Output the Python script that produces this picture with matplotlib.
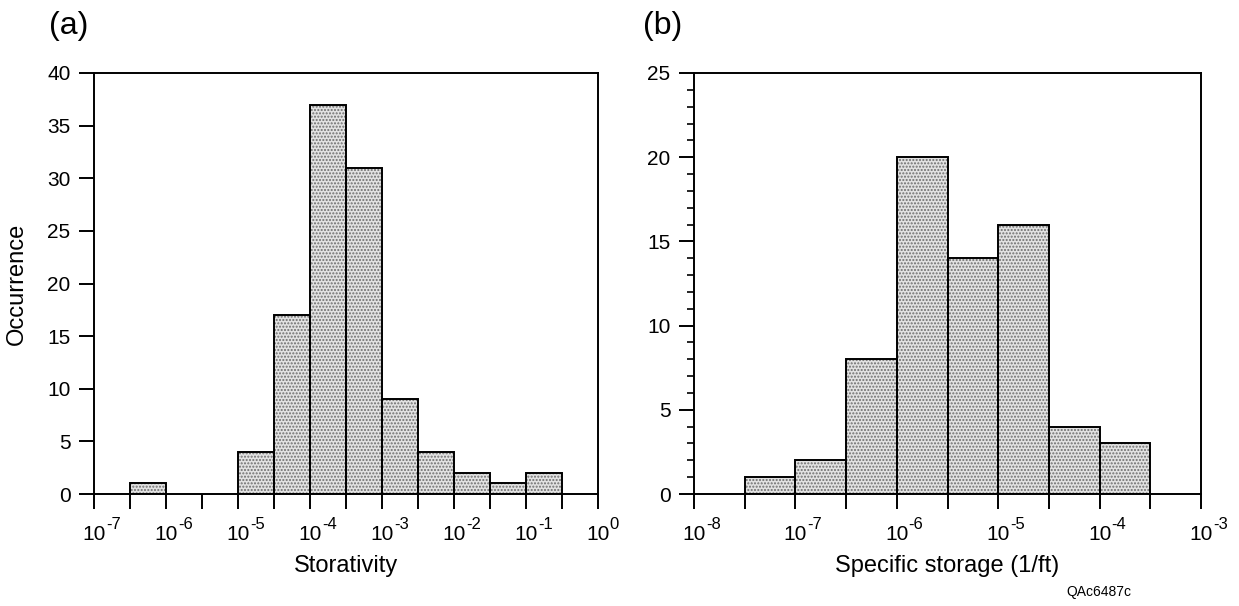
import numpy as np
import matplotlib
matplotlib.use("Agg")
import matplotlib.pyplot as plt
from matplotlib.ticker import FixedLocator, NullFormatter, MultipleLocator

plt.rcParams['font.family'] = ['Liberation Sans', 'DejaVu Sans']
plt.rcParams['hatch.linewidth'] = 1.0

# -----------------------------
# Data (log10 of bin left edge, half-decade bins)
# -----------------------------
stor_bin_exp = [-7.0, -6.5, -6.0, -5.5, -5.0, -4.5, -4.0, -3.5, -3.0, -2.5, -2.0, -1.5, -1.0, -0.5]
stor_counts = [0, 1, 0, 0, 4, 17, 37, 31, 9, 4, 2, 1, 2, 0]

ss_bin_exp = [-8.0, -7.5, -7.0, -6.5, -6.0, -5.5, -5.0, -4.5, -4.0, -3.5]
ss_counts = [0, 1, 2, 8, 20, 14, 16, 4, 3, 0]

stor_decades = [-7, -6, -5, -4, -3, -2, -1, 0]
ss_decades = [-8, -7, -6, -5, -4, -3]

W, H = 1239, 606
fig = plt.figure(figsize=(W / 100, H / 100), dpi=100)

ax1 = fig.add_axes([94 / W, 1 - 494 / H, (598 - 94) / W, (494 - 73) / H])
ax2 = fig.add_axes([694 / W, 1 - 494 / H, (1201 - 694) / W, (494 - 73) / H])


def draw_hist(ax, bin_exp, counts, decades, ymax):
    exps = np.array(bin_exp)
    cnt = np.array(counts)
    keep = cnt > 0
    left = 10.0 ** exps[keep]
    width = 10.0 ** (exps[keep] + 0.5) - left
    # stipple fill
    ax.bar(left, cnt[keep], width=width, align='edge', color='#e2e2e2',
           hatch='.....', edgecolor='#6e6e6e', linewidth=0, zorder=2)
    # outlines
    ax.bar(left, cnt[keep], width=width, align='edge', fill=False,
           edgecolor='black', linewidth=1.4, zorder=3)

    ax.set_xscale('log')
    ax.set_xlim(10.0 ** decades[0], 10.0 ** decades[-1])
    ax.set_ylim(0, ymax)

    ax.xaxis.set_major_locator(FixedLocator([10.0 ** d for d in decades]))
    ax.set_xticklabels(['10'] * len(decades))
    half = [10.0 ** (d + 0.5) for d in decades[:-1]]
    ax.xaxis.set_minor_locator(FixedLocator(half))
    ax.xaxis.set_minor_formatter(NullFormatter())

    # exponents next to each "10"
    for d in decades:
        ax.annotate(str(d), xy=(10.0 ** d, 0), xycoords=('data', 'axes fraction'),
                    xytext=(8.5, -16.5), textcoords='offset points',
                    ha='left', va='top', fontsize=12, annotation_clip=False)

    ax.yaxis.set_major_locator(MultipleLocator(5))
    ax.tick_params(axis='y', which='major', direction='out', length=11,
                   width=1.4, labelsize=15, pad=6)
    ax.tick_params(axis='x', which='major', direction='out', length=11,
                   width=1.4, labelsize=15, pad=11.5)
    ax.tick_params(axis='x', which='minor', direction='out', length=11,
                   width=1.4)
    for s in ax.spines.values():
        s.set_linewidth(1.4)


draw_hist(ax1, stor_bin_exp, stor_counts, stor_decades, 40)
draw_hist(ax2, ss_bin_exp, ss_counts, ss_decades, 25)

ax2.yaxis.set_minor_locator(MultipleLocator(1))
ax2.tick_params(axis='y', which='minor', direction='out', length=5, width=1.2)
ax1.yaxis.set_minor_locator(FixedLocator([]))

ax1.set_xlabel('Storativity', fontsize=17)
ax2.set_xlabel('Specific storage (1/ft)', fontsize=17)
ax1.xaxis.set_label_coords(0.5, -0.146)
ax2.xaxis.set_label_coords(0.5, -0.146)
ax1.set_ylabel('Occurrence', fontsize=17)
ax1.yaxis.set_label_coords(-0.132, 0.5)

fig.text(49 / W, 1 - 34 / H, '(a)', fontsize=23, va='baseline')
fig.text(643 / W, 1 - 34 / H, '(b)', fontsize=23, va='baseline')
fig.text(1131 / W, 1 - 596 / H, 'QAc6487c', fontsize=10, ha='right', va='baseline')

fig.savefig('out.png', dpi=100)
